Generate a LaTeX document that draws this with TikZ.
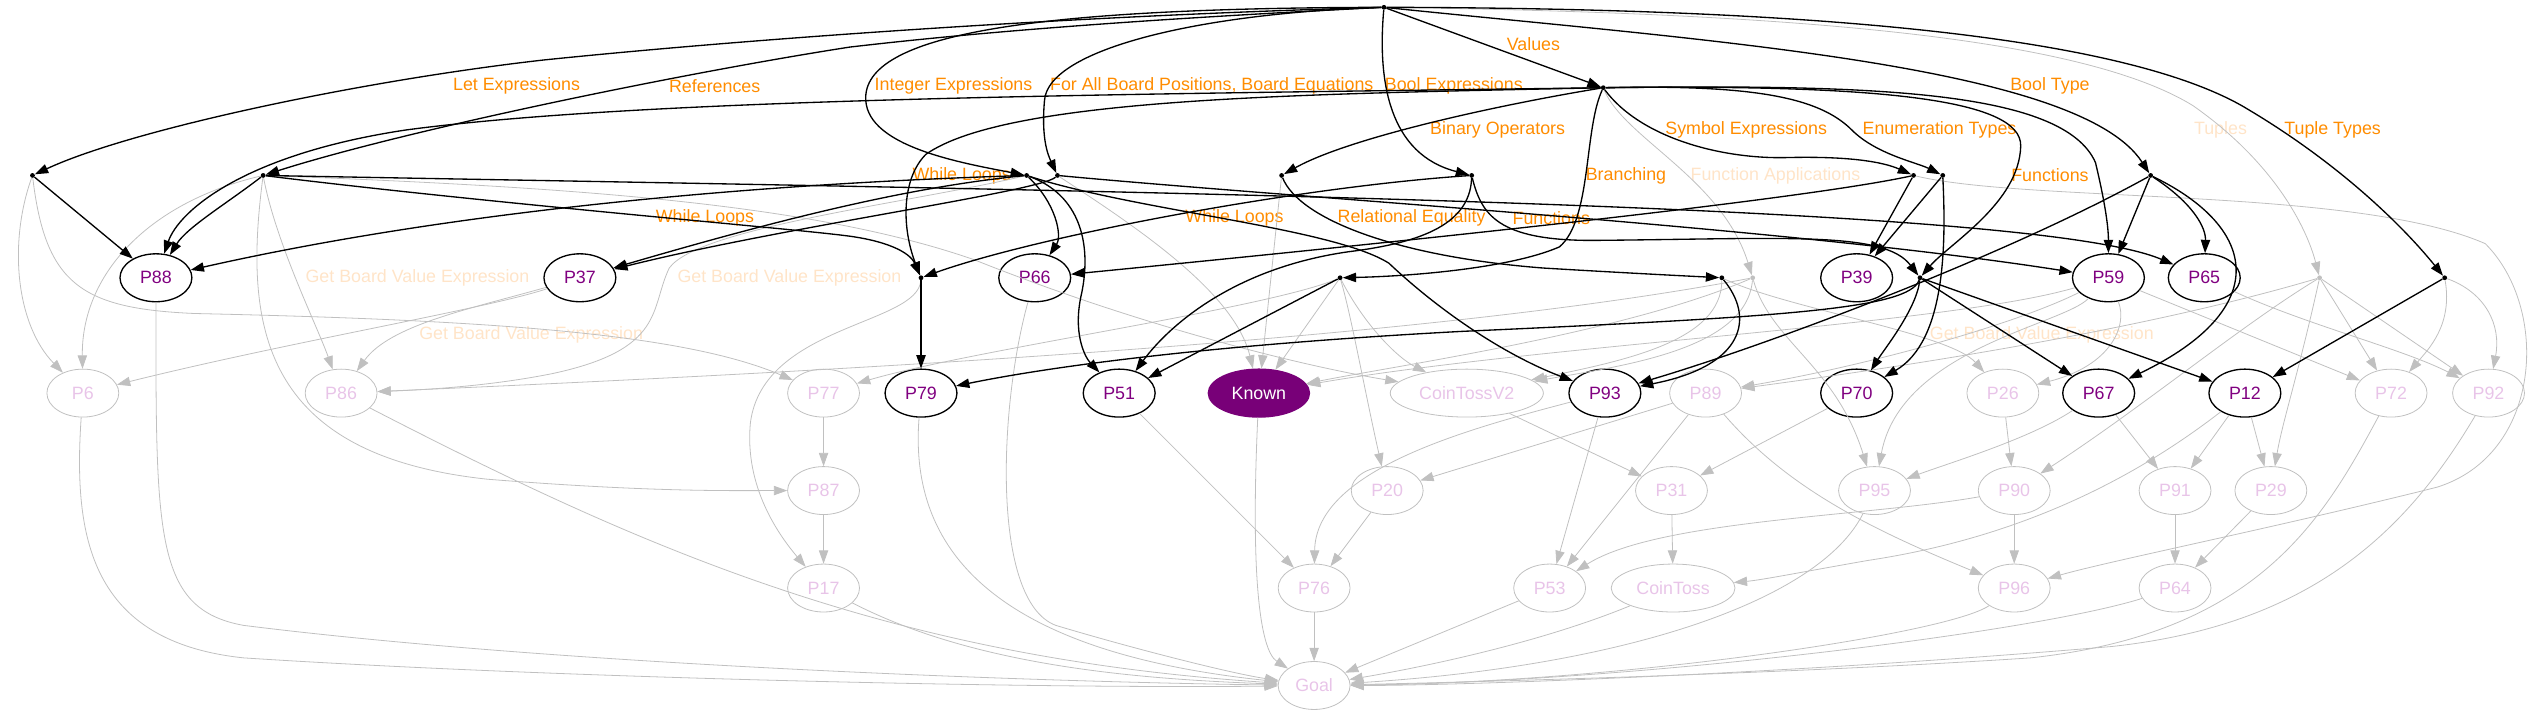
\documentclass[tikz,border=0pt]{standalone}
\usepackage{fontspec}
\setmainfont{Liberation Sans}
\usetikzlibrary{arrows.meta,shapes.geometric}
\definecolor{lblorange}{RGB}{255,140,0}
\definecolor{lblfade}{RGB}{255,228,200}
\definecolor{pbtext}{RGB}{128,0,128}
\definecolor{pbfade}{RGB}{232,196,232}
\definecolor{edgefade}{RGB}{192,192,192}
\definecolor{knownfill}{RGB}{120,0,120}
\tikzset{
  pb/.style={ellipse,draw=black,line width=1pt,text=pbtext,minimum width=54pt,
    minimum height=36pt,inner sep=0pt},
  pbdim/.style={pb,draw=edgefade,line width=0.6pt,text=pbfade},
  pbknown/.style={pb,draw=knownfill,fill=knownfill,text=white,minimum width=76pt},
  hub/.style={circle,fill=black,inner sep=0pt,minimum size=3.6pt},
  hubdim/.style={hub,fill=edgefade},
  fl/.style={-{Triangle[length=10pt,width=7pt]},line width=1pt},
  flg/.style={fl,draw=edgefade,line width=0.6pt},
  lbl/.style={text=lblorange,inner sep=1pt},
  lbldim/.style={lbl,text=lblfade},
}

\begin{document}
\begin{tikzpicture}[x=1.22pt,y=-1.22pt,font=\fontsize{13.4pt}{15pt}\selectfont]
  \useasboundingbox (0,0) rectangle (1568,440);
  % hubs
  \node[hub] (T) at (852,4.5) {};
  \node[hub] (V) at (987,54) {};
  \node[hub] (A) at (20,108) {};
  \node[hub] (B) at (162,108) {};
  \node[hub] (C) at (632,108) {};
  \node[hub] (D) at (651,108) {};
  \node[hub] (E) at (789,108) {};
  \node[hub] (F) at (906,108) {};
  \node[hub] (G) at (1178,108) {};
  \node[hub] (H) at (1196,108) {};
  \node[hub] (I) at (1324,108) {};
  \node[hub] (J) at (567,171) {};
  \node[hub] (K) at (825,171) {};
  \node[hub] (L) at (1060,171) {};
  \node[hubdim] (M) at (1079,171) {};
  \node[hub] (N) at (1182,171) {};
  \node[hubdim] (O) at (1428,171) {};
  \node[hub] (Q) at (1505,171) {};
  % problems
  \node[pb] (P88) at (96,171) {P88};
  \node[pb] (P37) at (357,171) {P37};
  \node[pb] (P66) at (637,171) {P66};
  \node[pb] (P39) at (1143,171) {P39};
  \node[pb] (P59) at (1298,171) {P59};
  \node[pb] (P65) at (1357,171) {P65};
  \node[pbdim] (P6) at (51,242) {P6};
  \node[pbdim] (P86) at (210,242) {P86};
  \node[pbdim] (P77) at (507,242) {P77};
  \node[pb] (P79) at (567,242) {P79};
  \node[pb] (P51) at (689,242) {P51};
  \node[pbknown] (Known) at (775,242) {Known};
  \node[pbdim,minimum width=115pt] (CoinTossV2) at (903,242) {CoinTossV2};
  \node[pb] (P93) at (988,242) {P93};
  \node[pbdim] (P89) at (1050,242) {P89};
  \node[pb] (P70) at (1143,242) {P70};
  \node[pbdim] (P26) at (1233,242) {P26};
  \node[pb] (P67) at (1292,242) {P67};
  \node[pb] (P12) at (1382,242) {P12};
  \node[pbdim] (P72) at (1472,242) {P72};
  \node[pbdim] (P92) at (1532,242) {P92};
  \node[pbdim] (P87) at (507,302) {P87};
  \node[pbdim] (P20) at (854,302) {P20};
  \node[pbdim] (P31) at (1029,302) {P31};
  \node[pbdim] (P95) at (1154,302) {P95};
  \node[pbdim] (P90) at (1240,302) {P90};
  \node[pbdim] (P91) at (1339,302) {P91};
  \node[pbdim] (P29) at (1398,302) {P29};
  \node[pbdim] (P17) at (507,362) {P17};
  \node[pbdim] (P76) at (809,362) {P76};
  \node[pbdim] (P53) at (954,362) {P53};
  \node[pbdim,minimum width=93pt] (CoinToss) at (1030,362) {CoinToss};
  \node[pbdim] (P96) at (1240,362) {P96};
  \node[pbdim] (P64) at (1339,362) {P64};
  \node[pbdim] (Goal) at (809,422) {Goal};
  % labels
  \node[lbl] (lLet) at (318,53) {Let Expressions};
  \node[lbl] (lRef) at (440,53) {References};
  \node[lbl] (lInt) at (587,53) {Integer Expressions};
  \node[lbl] (lForAll) at (746,53) {For All Board Positions, Board Equations};
  \node[lbl] (lBoolE) at (895,53) {Bool Expressions};
  \node[lbl] (lVal) at (944,27) {Values};
  \node[lbl] (lBoolT) at (1262,53) {Bool Type};
  \node[lbldim] (lTup) at (1367,80) {Tuples};
  \node[lbl] (lTupT) at (1436,80) {Tuple Types};
  \node[lbl] (lBin) at (922,80) {Binary Operators};
  \node[lbl] (lSym) at (1075,80) {Symbol Expressions};
  \node[lbl] (lEnum) at (1194,80) {Enumeration Types};
  \node[lbl] (lWhileA) at (592,108) {While Loops};
  \node[lbl] (lBranch) at (1001,108) {Branching};
  \node[lbldim] (lFunApp) at (1093,108) {Function Applications};
  \node[lbl] (lFunA) at (1262,108) {Functions};
  \node[lbl] (lWhileB) at (434,134) {While Loops};
  \node[lbl] (lWhileC) at (760,134) {While Loops};
  \node[lbl] (lRelEq) at (869,134) {Relational Equality};
  \node[lbl] (lFunB) at (955,134) {Functions};
  \node[lbldim] (lGetA) at (257,171) {Get Board Value Expression};
  \node[lbldim] (lGetB) at (486,171) {Get Board Value Expression};
  \node[lbldim] (lGetC) at (327,206) {Get Board Value Expression};
  \node[lbldim] (lGetD) at (1257,206) {Get Board Value Expression};

  % faded edges
  \draw[flg] (T) .. controls (1100,8) and (1280,22) .. (1350,65) .. controls (1400,100) and (1420,140) .. (O);
  \draw[flg] (V) .. controls (1000,85) and (1060,110) .. (M);
  \draw[flg] (A) .. controls (5,150) and (10,200) .. (P6);
  \draw[flg] (A) .. controls (28,175) and (50,190) .. (120,193) .. controls (300,197) and (420,205) .. (P77);
  \draw[flg] (B) .. controls (90,125) and (50,170) .. (P6);
  \draw[flg] (B) .. controls (170,150) and (195,200) .. (P86);
  \draw[flg] (B) .. controls (150,200) and (160,280) .. (300,295) .. controls (400,303) and (450,302) .. (P87);
  \draw[flg] (B) .. controls (350,115) and (500,125) .. (600,160) .. controls (700,200) and (800,225) .. (CoinTossV2);
  \draw[flg] (C) .. controls (560,125) and (430,140) .. (412,165) .. controls (400,190) and (410,215) .. (340,230) .. controls (300,238) and (260,240) .. (P86);
  \draw[flg] (M) .. controls (900,205) and (600,225) .. (P86);
  \draw[flg] (P37) .. controls (300,190) and (180,210) .. (P6);
  \draw[flg] (P37) .. controls (290,190) and (240,200) .. (P86);
  \draw[flg] (J) .. controls (565,200) and (470,200) .. (462,260) .. controls (458,300) and (480,330) .. (P17);
  \draw[flg] (K) .. controls (780,190) and (600,215) .. (P77);
  \draw[flg] (P77) -- (P87);
  \draw[flg] (P87) -- (P17);
  \draw[flg] (D) .. controls (700,140) and (760,180) .. (Known);
  \draw[flg] (E) -- (Known);
  \draw[flg] (K) -- (Known);
  \draw[flg] (P59) .. controls (1200,200) and (950,212) .. (Known);
  \draw[flg] (M) .. controls (1000,205) and (860,225) .. (Known);
  \draw[flg] (K) .. controls (840,200) and (860,220) .. (CoinTossV2);
  \draw[flg] (L) .. controls (1060,210) and (1000,222) .. (CoinTossV2);
  \draw[flg] (M) .. controls (1075,215) and (1000,225) .. (CoinTossV2);
  \draw[flg] (K) .. controls (832,195) and (840,240) .. (P20);
  \draw[flg] (P89) -- (P20);
  \draw[flg] (P51) -- (P76);
  \draw[flg] (P20) -- (P76);
  \draw[flg] (P93) .. controls (900,265) and (810,290) .. (P76);
  \draw[flg] (P93) -- (P53);
  \draw[flg] (P89) -- (P53);
  \draw[flg] (P90) .. controls (1150,318) and (1020,320) .. (P53);
  \draw[flg] (CoinTossV2) -- (P31);
  \draw[flg] (P70) -- (P31);
  \draw[flg] (P31) -- (CoinToss);
  \draw[flg] (P89) .. controls (1100,300) and (1150,325) .. (P96);
  \draw[flg] (P67) .. controls (1250,270) and (1200,285) .. (P95);
  \draw[flg] (P59) .. controls (1270,200) and (1170,215) .. (P95);
  \draw[flg] (M) .. controls (1090,210) and (1130,225) .. (P95);
  \draw[flg] (P59) .. controls (1310,200) and (1300,225) .. (P26);
  \draw[flg] (L) .. controls (1100,190) and (1200,205) .. (P26);
  \draw[flg] (P26) -- (P90);
  \draw[flg] (O) .. controls (1380,200) and (1320,250) .. (P90);
  \draw[flg] (P90) -- (P96);
  \draw[flg] (P67) -- (P91);
  \draw[flg] (P12) -- (P91);
  \draw[flg] (P12) -- (P29);
  \draw[flg] (O) .. controls (1415,230) and (1405,260) .. (P29);
  \draw[flg] (P91) -- (P64);
  \draw[flg] (P29) -- (P64);
  \draw[flg] (P12) .. controls (1320,290) and (1250,330) .. (1150,345) .. controls (1110,352) and (1085,357) .. (CoinToss);
  \draw[flg] (O) -- (P72);
  \draw[flg] (O) -- (P92);
  \draw[flg] (Q) .. controls (1510,200) and (1495,215) .. (P72);
  \draw[flg] (Q) .. controls (1530,180) and (1540,200) .. (P92);
  \draw[flg] (P59) -- (P72);
  \draw[flg] (P65) .. controls (1420,200) and (1480,215) .. (P92);
  \draw[flg] (O) .. controls (1330,200) and (1200,222) .. (P89);
  \draw[flg] (P59) .. controls (1240,200) and (1150,225) .. (P89);
  \draw[flg] (G) .. controls (1250,125) and (1450,115) .. (1530,150) .. controls (1570,190) and (1565,280) .. (1500,300) .. controls (1400,325) and (1300,345) .. (P96);
  \draw[flg] (P6) .. controls (45,330) and (55,395) .. (150,405) .. controls (350,418) and (650,424) .. (Goal);
  \draw[flg] (P88) .. controls (96,330) and (95,375) .. (150,385) .. controls (350,410) and (650,420) .. (Goal);
  \draw[flg] (P86) .. controls (400,340) and (550,405) .. (Goal);
  \draw[flg] (P17) .. controls (600,410) and (700,418) .. (Goal);
  \draw[flg] (P79) .. controls (560,330) and (600,400) .. (Goal);
  \draw[flg] (P66) .. controls (615,250) and (610,370) .. (650,385) .. controls (700,400) and (760,415) .. (Goal);
  \draw[flg] (Known) .. controls (770,350) and (775,400) .. (Goal);
  \draw[flg] (P76) -- (Goal);
  \draw[flg] (P53) -- (Goal);
  \draw[flg] (CoinToss) .. controls (950,395) and (880,410) .. (Goal);
  \draw[flg] (P95) .. controls (1120,370) and (1000,410) .. (Goal);
  \draw[flg] (P96) .. controls (1200,390) and (1000,420) .. (Goal);
  \draw[flg] (P64) .. controls (1250,390) and (1000,420) .. (Goal);
  \draw[flg] (P72) .. controls (1430,320) and (1390,390) .. (1250,405) .. controls (1100,415) and (900,420) .. (Goal);
  \draw[flg] (P92) .. controls (1480,330) and (1420,385) .. (1300,398) .. controls (1100,415) and (900,422) .. (Goal);

  % active edges
  \draw[fl] (T) .. controls (650,10) and (450,25) .. (334,37) .. controls (220,50) and (80,80) .. (A);
  \draw[fl] (T) .. controls (700,12) and (600,20) .. (523,29) .. controls (420,45) and (250,80) .. (B);
  \draw[fl] (T) .. controls (640,5) and (530,20) .. (533,62) .. controls (535,90) and (590,100) .. (C);
  \draw[fl] (T) .. controls (740,8) and (645,30) .. (643,62) .. controls (641,85) and (645,95) .. (D);
  \draw[fl] (T) .. controls (848,50) and (855,95) .. (F);
  \draw[fl] (T) -- (V);
  \draw[fl] (T) .. controls (1050,25) and (1280,40) .. (I);
  \draw[fl] (T) .. controls (1100,5) and (1300,20) .. (1380,65) .. controls (1440,100) and (1480,140) .. (Q);
  \draw[fl] (V) .. controls (920,65) and (830,85) .. (E);
  \draw[fl] (V) .. controls (1010,85) and (1060,98) .. (1100,97) .. controls (1140,96) and (1160,100) .. (G);
  \draw[fl] (V) .. controls (1080,52) and (1120,60) .. (1140,80) .. controls (1155,95) and (1180,100) .. (H);
  \draw[fl] (V) .. controls (975,80) and (980,135) .. (960,152) .. controls (930,165) and (870,170) .. (K);
  \draw[fl] (V) .. controls (1150,52) and (1245,60) .. (1244,90) .. controls (1243,125) and (1200,150) .. (N);
  \draw[fl] (V) .. controls (800,58) and (620,60) .. (570,95) .. controls (555,110) and (555,140) .. (J);
  \draw[fl] (V) .. controls (700,58) and (400,60) .. (250,80) .. controls (150,95) and (110,130) .. (P88);
  \draw[fl] (V) .. controls (1150,52) and (1270,55) .. (1290,100) .. controls (1296,125) and (1298,140) .. (P59);
  \draw[fl] (A) -- (P88);
  \draw[fl] (B) .. controls (140,125) and (115,140) .. (P88);
  \draw[fl] (B) .. controls (300,125) and (480,140) .. (520,145) .. controls (545,148) and (560,155) .. (J);
  \draw[fl] (B) .. controls (700,118) and (1250,125) .. (P65);
  \draw[fl] (C) .. controls (500,112) and (300,125) .. (P88);
  \draw[fl] (C) .. controls (560,115) and (480,135) .. (P37);
  \draw[fl] (C) .. controls (650,125) and (654,145) .. (P66);
  \draw[fl] (C) .. controls (665,120) and (672,150) .. (666,180) .. controls (660,205) and (668,220) .. (P51);
  \draw[fl] (C) .. controls (700,130) and (820,140) .. (855,162) .. controls (890,195) and (930,220) .. (P93);
  \draw[fl] (D) .. controls (640,118) and (480,140) .. (P37);
  \draw[fl] (D) .. controls (800,122) and (1100,140) .. (P59);
  \draw[fl] (E) .. controls (800,135) and (860,158) .. (950,165) .. controls (1000,168) and (1040,170) .. (L);
  \draw[fl] (F) .. controls (800,115) and (640,145) .. (J);
  \draw[fl] (F) .. controls (912,132) and (922,148) .. (980,148) .. controls (1100,147) and (1160,142) .. (N);
  \draw[fl] (F) .. controls (905,140) and (870,150) .. (830,155) .. controls (760,165) and (720,200) .. (P51);
  \draw[fl] (G) -- (P39);
  \draw[fl] (G) .. controls (1100,125) and (800,155) .. (P66);
  \draw[fl] (H) -- (P39);
  \draw[fl] (H) .. controls (1198,150) and (1198,210) .. (P70);
  \draw[fl] (I) -- (P59);
  \draw[fl] (I) .. controls (1350,125) and (1358,140) .. (P65);
  \draw[fl] (I) .. controls (1390,140) and (1400,190) .. (P67);
  \draw[fl] (I) .. controls (1230,160) and (1080,215) .. (P93);
  \draw[fl] (J) -- (P79);
  \draw[fl] (K) -- (P51);
  \draw[fl] (L) .. controls (1080,195) and (1075,225) .. (P93);
  \draw[fl] (N) .. controls (1175,190) and (1100,195) .. (900,204) .. controls (750,212) and (650,225) .. (P79);
  \draw[fl] (N) .. controls (1180,190) and (1160,215) .. (P70);
  \draw[fl] (N) -- (P67);
  \draw[fl] (N) -- (P12);
  \draw[fl] (Q) -- (P12);
\end{tikzpicture}
\end{document}
